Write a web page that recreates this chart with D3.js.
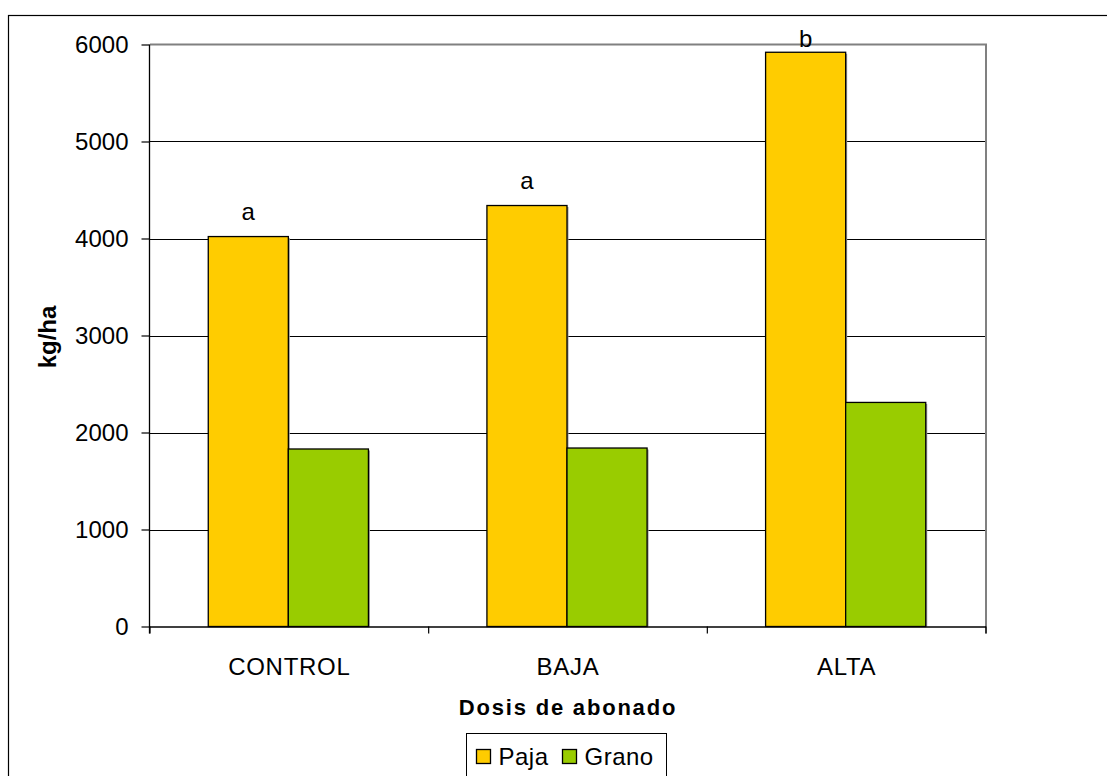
<!DOCTYPE html>
<html>
<head>
<meta charset="utf-8">
<script src="https://cdn.jsdelivr.net/npm/d3@7"></script>
<style>
  html, body { margin: 0; padding: 0; background: #fff; }
  svg { display: block; font-family: "Liberation Sans", Arial, sans-serif; }
</style>
</head>
<body>
<svg id="chart" width="1107" height="776"></svg>
<script>
// Rendimiento de paja y grano según dosis de abonado
const categories = ["CONTROL", "BAJA", "ALTA"];
const seriesNames = ["Paja", "Grano"];
const paja = [4020, 4340, 5920];
const grano = [1830, 1840, 2310];
const significance = ["a", "a", "b"];
const yTicks = [0, 1000, 2000, 3000, 4000, 5000, 6000];
const colors = ["#FFCC00", "#99CC00"];

const svg = d3.select("#chart");

// outer chart frame
svg.append("rect")
  .attr("x", 8.5).attr("y", 15.5)
  .attr("width", 1120).attr("height", 800)
  .attr("fill", "#fff").attr("stroke", "#000").attr("stroke-width", 1.2);

const plot = { left: 150, right: 986, top: 44.5, bottom: 626.5 };

const y = d3.scaleLinear().domain([0, 6000]).range([plot.bottom, plot.top]);
const x0 = d3.scaleBand().domain(categories).range([plot.left, plot.right]).padding(0);
const x1 = d3.scaleBand().domain(seriesNames).range([0, x0.bandwidth()])
  .paddingInner(0).paddingOuter(0.74);

// horizontal gridlines
svg.append("g")
  .selectAll("line")
  .data(yTicks.filter(t => t > 0 && t < 6000))
  .join("line")
  .attr("x1", plot.left).attr("x2", plot.right)
  .attr("y1", d => Math.round(y(d)) + 0.5)
  .attr("y2", d => Math.round(y(d)) + 0.5)
  .attr("stroke", "#000").attr("stroke-width", 1);

// plot area frame (top and right in grey)
svg.append("path")
  .attr("d", `M${plot.left},${plot.top}H${plot.right}V${plot.bottom + 7}`)
  .attr("fill", "none").attr("stroke", "#808080").attr("stroke-width", 2);

// bars
const rows = categories.map((c, i) => ({ cat: c, values: [paja[i], grano[i]] }));
const groups = svg.append("g")
  .selectAll("g")
  .data(rows)
  .join("g")
  .attr("transform", d => `translate(${x0(d.cat) - 1},0)`);

groups.selectAll("rect.shadow")
  .data(d => d.values.map((v, k) => ({ name: seriesNames[k], v, k })))
  .join("rect")
  .attr("class", "shadow")
  .attr("x", d => x1(d.name) + 1.5)
  .attr("y", d => y(d.v) + 1.5)
  .attr("width", x1.bandwidth())
  .attr("height", d => plot.bottom - y(d.v) - 1.5)
  .attr("fill", "#999");

groups.selectAll("rect.bar")
  .data(d => d.values.map((v, k) => ({ name: seriesNames[k], v, k })))
  .join("rect")
  .attr("class", "bar")
  .attr("x", d => x1(d.name))
  .attr("y", d => y(d.v))
  .attr("width", x1.bandwidth())
  .attr("height", d => plot.bottom - y(d.v))
  .attr("fill", d => colors[d.k])
  .attr("stroke", "#000").attr("stroke-width", 1.3);

// significance letters above straw bars
svg.append("g")
  .selectAll("text")
  .data(categories)
  .join("text")
  .attr("x", (c) => x0(c) - 1 + x1("Paja") + x1.bandwidth() / 2)
  .attr("y", (c, i) => Math.max(y(paja[i]) - 17, plot.top + 2))
  .attr("text-anchor", "middle")
  .attr("font-size", 24)
  .attr("fill", "#000")
  .text((c, i) => significance[i]);

// y axis
const yAxis = d3.axisLeft(y).tickValues(yTicks).tickSize(8).tickPadding(13).tickFormat(d3.format("d"));
const gy = svg.append("g").attr("transform", `translate(${plot.left - 0.5},0)`).call(yAxis);
gy.select(".domain").attr("stroke", "#000").attr("stroke-width", 1.3)
  .attr("d", `M0,${plot.top}V${plot.bottom + 7}`);
gy.selectAll(".tick line").attr("stroke", "#000").attr("stroke-width", 1.2);
gy.selectAll(".tick text").attr("font-size", 24).attr("fill", "#000")
  .attr("font-family", "Liberation Sans, Arial, sans-serif");

// x axis: baseline with ticks at category boundaries
const xAxisG = svg.append("g");
xAxisG.append("line")
  .attr("x1", plot.left).attr("x2", plot.right)
  .attr("y1", plot.bottom + 0.5).attr("y2", plot.bottom + 0.5)
  .attr("stroke", "#000").attr("stroke-width", 1.3);
const boundaries = categories.map(c => x0(c)).concat([x0.range()[1]]);
xAxisG.selectAll("line.tick")
  .data(boundaries)
  .join("line")
  .attr("class", "tick")
  .attr("x1", d => d).attr("x2", d => d)
  .attr("y1", plot.bottom).attr("y2", plot.bottom + 7)
  .attr("stroke", "#000").attr("stroke-width", 1.2);
xAxisG.selectAll("text")
  .data(categories)
  .join("text")
  .attr("x", c => x0(c) + x0.bandwidth() / 2)
  .attr("y", plot.bottom + 48)
  .attr("text-anchor", "middle")
  .attr("font-size", 24)
  .attr("letter-spacing", 0.7)
  .attr("fill", "#000")
  .text(c => c);

// axis titles
svg.append("text")
  .attr("x", 568).attr("y", 715)
  .attr("text-anchor", "middle")
  .attr("font-size", 22).attr("font-weight", "bold")
  .attr("letter-spacing", 1.8)
  .text("Dosis de abonado");

svg.append("text")
  .attr("transform", "translate(56,337) rotate(-90)")
  .attr("text-anchor", "middle")
  .attr("font-size", 24).attr("font-weight", "bold")
  .text("kg/ha");

// legend
const legend = svg.append("g");
legend.append("rect")
  .attr("x", 466.5).attr("y", 733.5)
  .attr("width", 200).attr("height", 60)
  .attr("fill", "#fff").attr("stroke", "#000").attr("stroke-width", 1);
const legendX = [476.5, 562.5];
const items = legend.selectAll("g.item")
  .data(seriesNames)
  .join("g")
  .attr("class", "item")
  .attr("transform", (d, i) => `translate(${legendX[i]},749.5)`);
items.append("rect")
  .attr("width", 14).attr("height", 14)
  .attr("fill", (d, i) => colors[i])
  .attr("stroke", "#000").attr("stroke-width", 1.3);
items.append("text")
  .attr("x", 22).attr("y", 15)
  .attr("font-size", 24)
  .attr("letter-spacing", 0.5)
  .attr("fill", "#000")
  .text(d => d);
</script>
</body>
</html>
